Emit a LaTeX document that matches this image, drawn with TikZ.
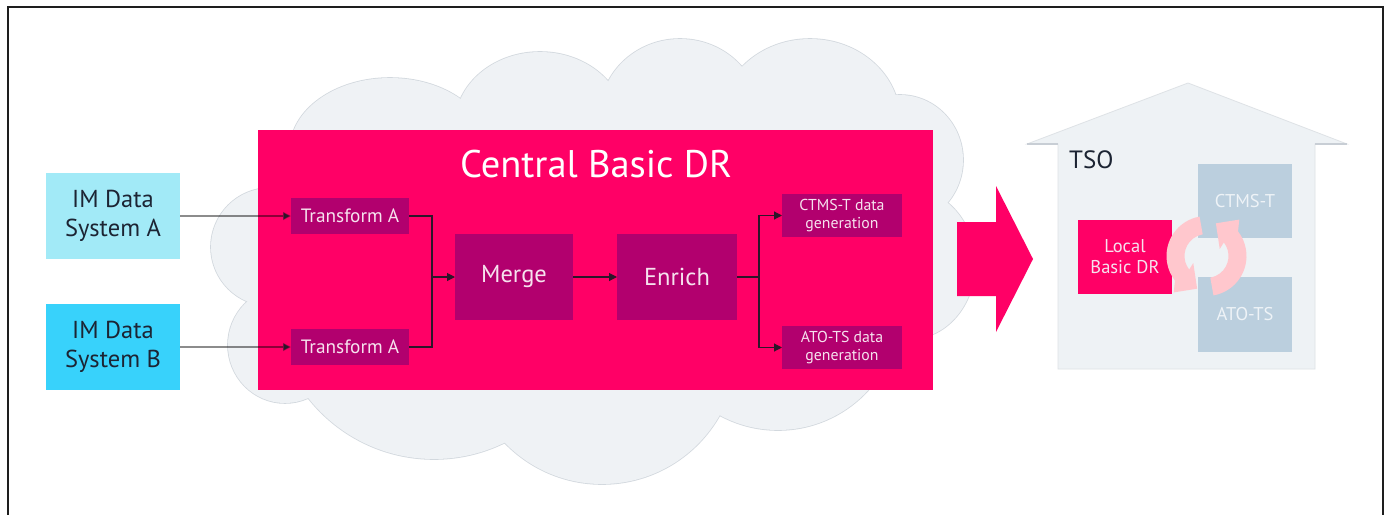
\documentclass[tikz,border=0pt]{standalone}
\usepackage{fontspec}
\setmainfont{PT Sans}
\usetikzlibrary{arrows.meta}

\definecolor{cloudfill}{RGB}{239,242,245}
\definecolor{cloudedge}{RGB}{210,216,222}
\definecolor{dbred}{RGB}{255,0,102}
\definecolor{dbpurple}{RGB}{178,0,110}
\definecolor{paletext}{RGB}{246,226,238}
\definecolor{imlight}{RGB}{162,234,247}
\definecolor{imstrong}{RGB}{56,210,251}
\definecolor{inktext}{RGB}{28,36,51}
\definecolor{housefill}{RGB}{238,242,245}
\definecolor{houseedge}{RGB}{200,206,213}
\definecolor{sysblue}{RGB}{187,207,222}
\definecolor{systext}{RGB}{238,243,247}
\definecolor{cyclepink}{RGB}{255,199,205}
\definecolor{wire}{RGB}{45,22,42}

\tikzset{
  box/.style={inner sep=0pt, outer sep=0pt, align=center},
  imbox/.style={box, minimum width=134pt, minimum height=86pt, text=inktext,
    font=\fontsize{24.5}{29}\selectfont},
  stagebox/.style={box, fill=dbpurple, text=paletext},
  smallstage/.style={stagebox, minimum width=118pt, minimum height=36pt,
    font=\fontsize{19.3}{22}\selectfont},
  bigstage/.style={stagebox, minimum height=86pt,
    font=\fontsize{24.5}{28}\selectfont},
  outstage/.style={stagebox, minimum width=120pt, minimum height=43pt,
    font=\fontsize{15.8}{18}\selectfont},
  sysbox/.style={box, fill=sysblue, text=systext, minimum width=94pt,
    minimum height=74pt, font=\fontsize{18.5}{21}\selectfont},
  wireline/.style={draw=wire, line width=1.1pt},
  wirearrow/.style={wireline, -{Triangle[length=8pt,width=8pt]}},
  feedarrow/.style={draw=black, draw opacity=0.45, line width=1.3pt,
    -{Triangle[length=8pt,width=8pt,fill=wire,color=wire]}},
}

\begin{document}
\begin{tikzpicture}[x=1pt,y=-1pt]
\useasboundingbox (0,0) rectangle (1389,514);
\clip (0,0) rectangle (1389,514);
\fill[white] (0,0) rectangle (1389,514);
\draw[line width=1.3pt, draw={rgb,255:red,30;green,30;blue,30}] (8,7) rectangle (1383,540);

% cloud: union of ellipses, outline first, then the fill on top
\foreach \cx/\cy/\rx/\ry in {390/150/100/72, 540/125/85/73, 680/115/80/76,
    810/120/90/81, 900/160/63/65, 910/264/65/75, 270/247/59/59,
    285/345/57/58, 434/299/160/160, 602/349/135/135, 778/308/122/122}
  \draw[cloudedge, line width=1.6pt] (\cx,\cy) ellipse[x radius=\rx, y radius=\ry];
\foreach \cx/\cy/\rx/\ry in {390/150/100/72, 540/125/85/73, 680/115/80/76,
    810/120/90/81, 900/160/63/65, 910/264/65/75, 270/247/59/59,
    285/345/57/58, 434/299/160/160, 602/349/135/135, 778/308/122/122}
  \fill[cloudfill] (\cx,\cy) ellipse[x radius=\rx, y radius=\ry];
\fill[cloudfill] (300,140) rectangle (900,380);

% central platform
\node[box, fill=dbred, minimum width=675pt, minimum height=260pt] (central) at (595.5,260) {};
\node[anchor=base, text=white, font=\fontsize{38.5}{42}\selectfont, inner sep=0pt] (title) at (596,177) {Central Basic DR};

% input systems
\node[imbox, fill=imlight] (imA) at (113,216) {IM Data\\System A};
\node[imbox, fill=imstrong] (imB) at (113,347) {IM Data\\System B};

% processing stages
\node[smallstage] (tA1) at (350,216) {Transform A};
\node[smallstage] (tA2) at (350,347) {Transform A};
\node[bigstage, minimum width=118pt] (merge) at (514,277) {Merge};
\node[bigstage, minimum width=120pt] (enrich) at (677,277) {Enrich};
\node[outstage] (ctmsgen) at (842,215.5) {CTMS-T data\\generation};
\node[outstage] (atogen) at (842,347.5) {ATO-TS data\\generation};

% connectors
\draw[feedarrow] (imA.east) -- (tA1.west);
\draw[feedarrow] (imB.east) -- (tA2.west);
\coordinate (join) at (432,277);
\draw[wireline] (tA1.east) -| (join);
\draw[wireline] (tA2.east) -| (join);
\draw[wirearrow] (join) -- (merge.west);
\draw[wirearrow] (merge.east) -- (enrich.west);
\coordinate (fork) at (759,277);
\draw[wireline] (enrich.east) -- (fork);
\draw[wirearrow] (fork) |- (ctmsgen.west);
\draw[wirearrow] (fork) |- (atogen.west);

% hand-over arrow
\fill[dbred] (957,222) -- (996,222) -- (996,186) -- (1033,259) -- (996,332)
  -- (996,296) -- (957,296) -- cycle;

% TSO house
\filldraw[fill=housefill, draw=houseedge!60, line width=0.8pt]
  (1027,144) -- (1188,83) -- (1347,144) -- (1315,144) -- (1315,369)
  -- (1058,369) -- (1058,144) -- cycle;
\draw[houseedge, line width=1.2pt] (1027,144) -- (1058,144);
\draw[houseedge, line width=1.2pt] (1315,144) -- (1347,144);
\node[anchor=base west, text=inktext, inner sep=0pt, font=\fontsize{25}{28}\selectfont] (tso) at (1069,168) {TSO};

\node[sysbox] (ctmst) at (1245,201) {CTMS-T};
\node[sysbox, minimum height=75pt] (atots) at (1245,314.5) {ATO-TS};
\node[sysbox, fill=dbred, text=paletext] (local) at (1125,257) {Local\\Basic DR};

% synchronisation cycle: two curved arrows
\begin{scope}[shift={(1206.5,256)}, x=1pt, y=1pt]
  \fill[cyclepink] (100:40) arc[start angle=100, end angle=218, radius=40pt]
    -- (228:49) -- (254:34) -- (208:15) -- (218:22)
    arc[start angle=218, end angle=100, radius=22pt] -- cycle;
  \fill[cyclepink] (280:40) arc[start angle=280, end angle=398, radius=40pt]
    -- (408:49) -- (434:34) -- (388:15) -- (398:22)
    arc[start angle=398, end angle=280, radius=22pt] -- cycle;
\end{scope}
\end{tikzpicture}
\end{document}
